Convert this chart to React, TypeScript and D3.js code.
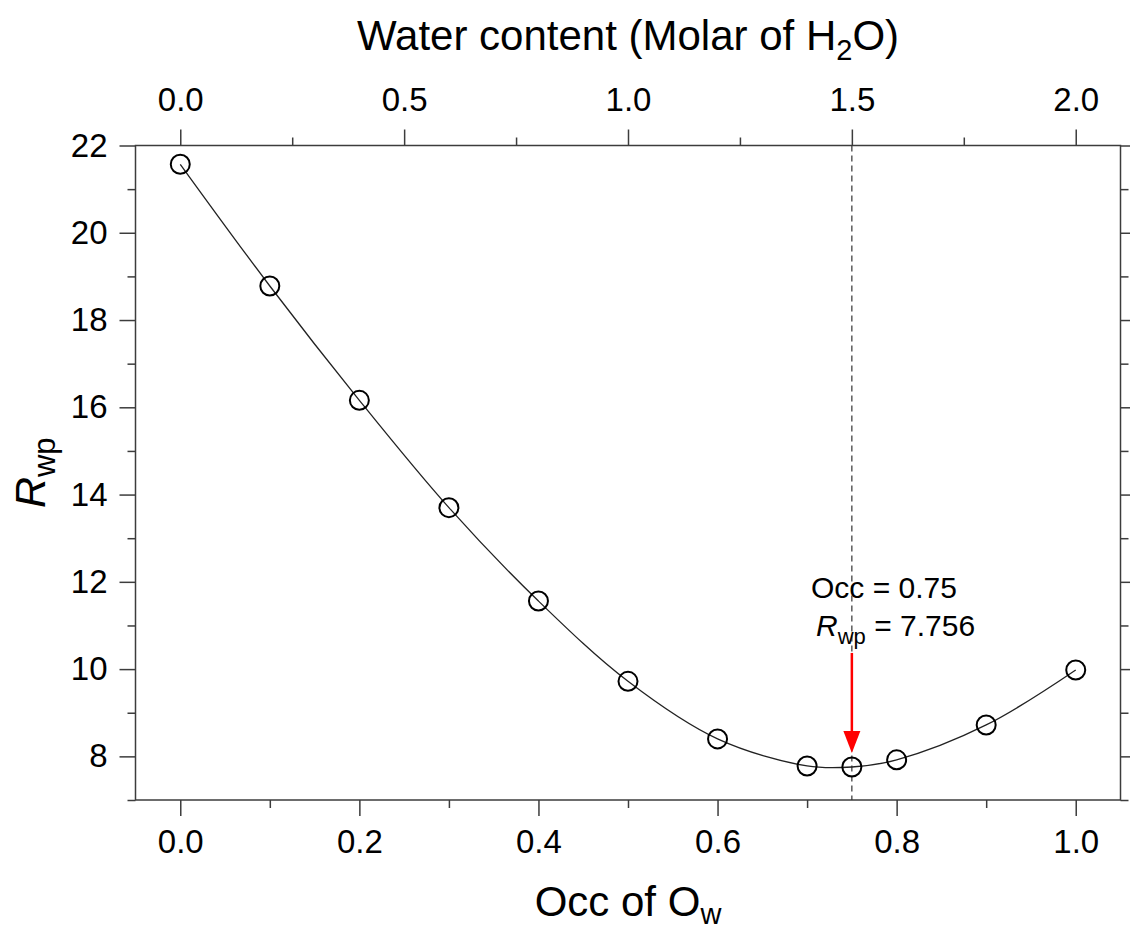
import { useEffect, useRef } from 'react';
import * as d3 from 'd3';

// Rwp vs occupancy of Ow
const occ = [0.0, 0.1, 0.2, 0.3, 0.4, 0.5, 0.6, 0.7, 0.75, 0.8, 0.9, 1.0];
const rwp = [21.57, 18.78, 16.16, 13.7, 11.56, 9.72, 8.4, 7.78, 7.756, 7.92, 8.72, 9.98];

const bottomMajor = [0, 0.2, 0.4, 0.6, 0.8, 1.0];
const bottomMinor = [0.1, 0.3, 0.5, 0.7, 0.9];
const topMajor = [0, 0.5, 1.0, 1.5, 2.0];
const topMinor = [0.25, 0.75, 1.25, 1.75];
const yMajor = [8, 10, 12, 14, 16, 18, 20, 22];
const yMinor = [7, 9, 11, 13, 15, 17, 19, 21];

// annotation: best occupancy and arrow span (in Rwp units)
const bestOcc = 0.75;
const bestRwp = 7.756;
const arrowFrom = 10.37;
const arrowTo = 8.08;

export default function App() {
  const ref = useRef<SVGSVGElement>(null);

  useEffect(() => {
    const svg = d3.select(ref.current);
    svg.selectAll('*').remove();

    const left = 135.5, right = 1120.5, top = 145.5, bottom = 800;
    const axisColor = '#3c3c3c';
    const font = '"Liberation Sans", Arial, sans-serif';

    const x = d3.scaleLinear().domain([-0.05, 1.05]).range([left, right]);
    const xTop = d3.scaleLinear().domain([-0.1, 2.1]).range([left, right]);
    const y = d3.scaleLinear().domain([7, 22]).range([bottom, top]);

    const styleAxis = (g: any) => {
      g.select('.domain').remove();
      g.selectAll('line').attr('stroke', axisColor).attr('stroke-width', 1.5);
      g.selectAll('text')
        .attr('fill', '#000')
        .style('font-family', font)
        .style('font-size', '33px');
    };

    // bottom axis
    svg.append('g')
      .attr('transform', `translate(0,${bottom})`)
      .call(d3.axisBottom(x).tickValues(bottomMajor).tickSize(16).tickPadding(14).tickFormat(d3.format('.1f')))
      .call(styleAxis);
    svg.append('g')
      .attr('transform', `translate(0,${bottom})`)
      .call(d3.axisBottom(x).tickValues(bottomMinor).tickSize(8).tickFormat(() => ''))
      .call(styleAxis);

    // top axis
    svg.append('g')
      .attr('transform', `translate(0,${top})`)
      .call(d3.axisTop(xTop).tickValues(topMajor).tickSize(16).tickPadding(19).tickFormat(d3.format('.1f')))
      .call(styleAxis);
    svg.append('g')
      .attr('transform', `translate(0,${top})`)
      .call(d3.axisTop(xTop).tickValues(topMinor).tickSize(8).tickFormat(() => ''))
      .call(styleAxis);

    // left axis
    svg.append('g')
      .attr('transform', `translate(${left},0)`)
      .call(d3.axisLeft(y).tickValues(yMajor).tickSize(16).tickPadding(12).tickFormat(d3.format('d')))
      .call(styleAxis);
    svg.append('g')
      .attr('transform', `translate(${left},0)`)
      .call(d3.axisLeft(y).tickValues(yMinor).tickSize(8).tickFormat(() => ''))
      .call(styleAxis);

    // right axis, ticks only
    svg.append('g')
      .attr('transform', `translate(${right},0)`)
      .call(d3.axisRight(y).tickValues(yMajor).tickSize(16).tickFormat(() => ''))
      .call(styleAxis);
    svg.append('g')
      .attr('transform', `translate(${right},0)`)
      .call(d3.axisRight(y).tickValues(yMinor).tickSize(8).tickFormat(() => ''))
      .call(styleAxis);

    // frame
    svg.append('rect')
      .attr('x', left)
      .attr('y', top)
      .attr('width', right - left)
      .attr('height', bottom - top)
      .attr('fill', 'none')
      .attr('stroke', axisColor)
      .attr('stroke-width', 1.5);

    // dashed marker at best occupancy
    svg.append('line')
      .attr('x1', x(bestOcc)).attr('x2', x(bestOcc))
      .attr('y1', top).attr('y2', bottom)
      .attr('stroke', '#333')
      .attr('stroke-width', 1.2)
      .attr('stroke-dasharray', '6,4');

    // smooth curve through points
    const pts = occ.map((o, i) => [o, rwp[i]] as [number, number]);
    const line = d3.line<[number, number]>()
      .x(d => x(d[0]))
      .y(d => y(d[1]))
      .curve(d3.curveCatmullRom.alpha(0.5));

    svg.append('path')
      .datum(pts)
      .attr('d', line)
      .attr('fill', 'none')
      .attr('stroke', '#222')
      .attr('stroke-width', 1.3);

    svg.append('g')
      .selectAll('circle')
      .data(pts)
      .enter().append('circle')
      .attr('cx', d => x(d[0]))
      .attr('cy', d => y(d[1]))
      .attr('r', 9.5)
      .attr('fill', 'none')
      .attr('stroke', '#000')
      .attr('stroke-width', 2);

    // red arrow
    const ax = x(bestOcc);
    const tipY = y(arrowTo);
    const headH = 22, headW = 8.5;
    svg.append('line')
      .attr('x1', ax).attr('x2', ax)
      .attr('y1', y(arrowFrom)).attr('y2', tipY - headH + 2)
      .attr('stroke', '#ff0000')
      .attr('stroke-width', 2.5);
    svg.append('path')
      .attr('d', `M${ax - headW},${tipY - headH}L${ax + headW},${tipY - headH}L${ax},${tipY}Z`)
      .attr('fill', '#ff0000');

    // annotation text
    svg.append('text')
      .attr('x', 884)
      .attr('y', 598)
      .attr('text-anchor', 'middle')
      .style('font-family', font)
      .style('font-size', '30px')
      .text(`Occ = ${bestOcc}`);

    const ann = svg.append('text')
      .attr('x', 816)
      .attr('y', 636)
      .style('font-family', font)
      .style('font-size', '30px');
    ann.append('tspan').style('font-style', 'italic').text('R');
    ann.append('tspan').attr('dy', 8).style('font-size', '22px').text('wp');
    ann.append('tspan').attr('dy', -8).text(` = ${bestRwp}`);

    // axis titles
    const tTop = svg.append('text')
      .attr('x', (left + right) / 2)
      .attr('y', 50)
      .attr('text-anchor', 'middle')
      .style('font-family', font)
      .style('font-size', '42px');
    tTop.append('tspan').text('Water content (Molar of H');
    tTop.append('tspan').attr('dy', 10).style('font-size', '29px').text('2');
    tTop.append('tspan').attr('dy', -10).text('O)');

    const tBottom = svg.append('text')
      .attr('x', (left + right) / 2)
      .attr('y', 916)
      .attr('text-anchor', 'middle')
      .style('font-family', font)
      .style('font-size', '42px');
    tBottom.append('tspan').text('Occ of O');
    tBottom.append('tspan').attr('dy', 8).style('font-size', '29px').text('w');

    const tLeft = svg.append('text')
      .attr('transform', `translate(45,${(top + bottom) / 2}) rotate(-90)`)
      .attr('text-anchor', 'middle')
      .style('font-family', font)
      .style('font-size', '43px');
    tLeft.append('tspan').style('font-style', 'italic').text('R');
    tLeft.append('tspan').attr('dy', 10).style('font-size', '31px').text('wp');
  }, []);

  return (
    <svg
      ref={ref}
      width={1130}
      height={931}
      style={{ position: 'absolute', left: 0, top: 0, background: '#fff' }}
    />
  );
}
